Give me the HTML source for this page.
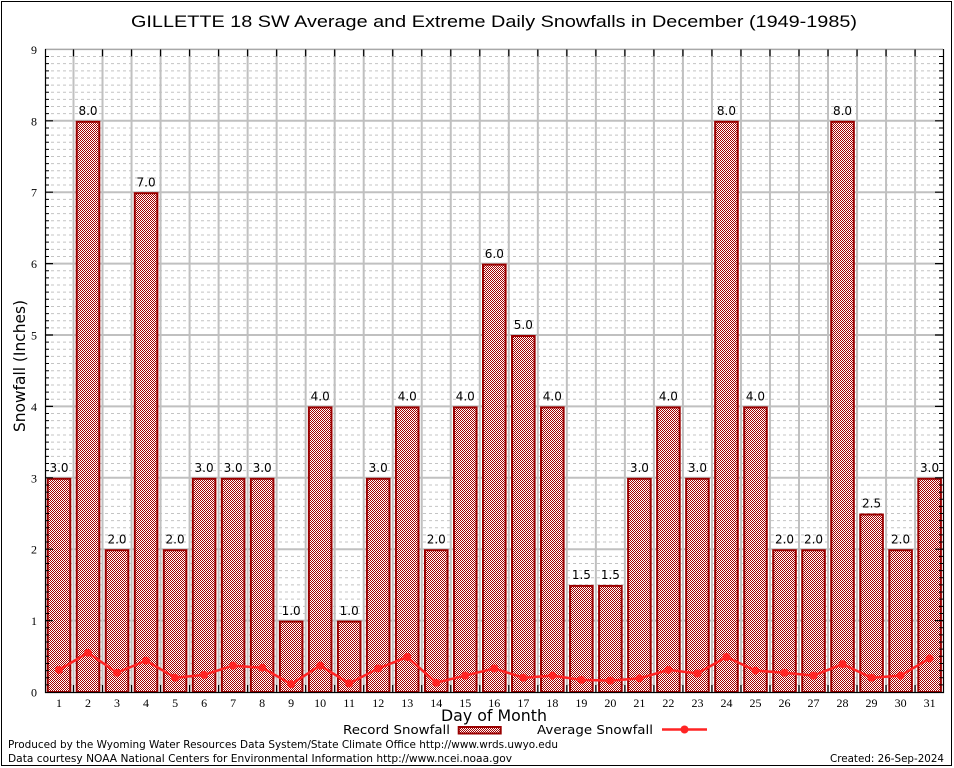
<!DOCTYPE html>
<html><head><meta charset="utf-8"><style>
html,body{margin:0;padding:0;background:#fff;}
svg{display:block;}
</style></head><body>
<svg width="954" height="768" viewBox="0 0 954 768" xmlns="http://www.w3.org/2000/svg">
<defs>
<pattern id="chk" x="0" y="0" width="2" height="2" patternUnits="userSpaceOnUse">
<rect width="2" height="2" fill="#ffffff"/>
<rect x="0" y="0" width="1" height="1" fill="#a40000"/>
<rect x="1" y="1" width="1" height="1" fill="#a40000"/>
</pattern>
<path id="mn" d="M45 684.86H943M45 677.72H943M45 670.58H943M45 663.44H943M45 656.30H943M45 649.16H943M45 642.02H943M45 634.88H943M45 627.74H943" stroke="#c4c4c4" stroke-width="1" stroke-dasharray="3,3" fill="none"/>
<path id="mt" d="M45 684.86h4M45 677.72h4M45 670.58h4M45 663.44h4M45 656.30h4M45 649.16h4M45 642.02h4M45 634.88h4M45 627.74h4M943 684.86h-4M943 677.72h-4M943 670.58h-4M943 663.44h-4M943 656.30h-4M943 649.16h-4M943 642.02h-4M943 634.88h-4M943 627.74h-4" stroke="#000" stroke-width="1" fill="none"/>
</defs>
<rect x="0" y="0" width="954" height="768" fill="#fff"/>
<rect x="1.5" y="1.5" width="950" height="764" fill="none" stroke="#000" stroke-width="1"/>

<use href="#mn"/>
<use href="#mn" transform="translate(0,-71.4)"/>
<use href="#mn" transform="translate(0,-142.8)"/>
<use href="#mn" transform="translate(0,-214.2)"/>
<use href="#mn" transform="translate(0,-285.6)"/>
<use href="#mn" transform="translate(0,-357)"/>
<use href="#mn" transform="translate(0,-428.4)"/>
<use href="#mn" transform="translate(0,-499.8)"/>
<use href="#mn" transform="translate(0,-571.2)"/>

<path d="M45 620.6H943M45 549.2H943M45 477.8H943M45 406.4H943M45 335H943M45 263.6H943M45 192.2H943M45 120.8H943" stroke="#c0c0c0" stroke-width="2" fill="none"/>
<path d="M73.5 49.4V692M102.52 49.4V692M131.54 49.4V692M160.56 49.4V692M189.58 49.4V692M218.6 49.4V692M247.62 49.4V692M276.64 49.4V692M305.66 49.4V692M334.68 49.4V692M363.7 49.4V692M392.72 49.4V692M421.74 49.4V692M450.76 49.4V692M479.78 49.4V692M508.8 49.4V692M537.82 49.4V692M566.84 49.4V692M595.86 49.4V692M624.88 49.4V692M653.9 49.4V692M682.92 49.4V692M711.94 49.4V692M740.96 49.4V692M769.98 49.4V692M799 49.4V692M828.02 49.4V692M857.04 49.4V692M886.06 49.4V692M915.08 49.4V692" stroke="#c0c0c0" stroke-width="2" fill="none"/>

<g fill="url(#chk)" stroke="#9a0000" stroke-width="2">
<rect x="47.7" y="478.8" width="22.6" height="213.2"/>
<rect x="76.72" y="121.8" width="22.6" height="570.2"/>
<rect x="105.74" y="550.2" width="22.6" height="141.8"/>
<rect x="134.76" y="193.2" width="22.6" height="498.8"/>
<rect x="163.78" y="550.2" width="22.6" height="141.8"/>
<rect x="192.8" y="478.8" width="22.6" height="213.2"/>
<rect x="221.82" y="478.8" width="22.6" height="213.2"/>
<rect x="250.84" y="478.8" width="22.6" height="213.2"/>
<rect x="279.86" y="621.6" width="22.6" height="70.4"/>
<rect x="308.88" y="407.4" width="22.6" height="284.6"/>
<rect x="337.9" y="621.6" width="22.6" height="70.4"/>
<rect x="366.92" y="478.8" width="22.6" height="213.2"/>
<rect x="395.94" y="407.4" width="22.6" height="284.6"/>
<rect x="424.96" y="550.2" width="22.6" height="141.8"/>
<rect x="453.98" y="407.4" width="22.6" height="284.6"/>
<rect x="483" y="264.6" width="22.6" height="427.4"/>
<rect x="512.02" y="336" width="22.6" height="356"/>
<rect x="541.04" y="407.4" width="22.6" height="284.6"/>
<rect x="570.06" y="585.9" width="22.6" height="106.1"/>
<rect x="599.08" y="585.9" width="22.6" height="106.1"/>
<rect x="628.1" y="478.8" width="22.6" height="213.2"/>
<rect x="657.12" y="407.4" width="22.6" height="284.6"/>
<rect x="686.14" y="478.8" width="22.6" height="213.2"/>
<rect x="715.16" y="121.8" width="22.6" height="570.2"/>
<rect x="744.18" y="407.4" width="22.6" height="284.6"/>
<rect x="773.2" y="550.2" width="22.6" height="141.8"/>
<rect x="802.22" y="550.2" width="22.6" height="141.8"/>
<rect x="831.24" y="121.8" width="22.6" height="570.2"/>
<rect x="860.26" y="514.5" width="22.6" height="177.5"/>
<rect x="889.28" y="550.2" width="22.6" height="141.8"/>
<rect x="918.3" y="478.8" width="22.6" height="213.2"/>
</g>

<g font-family="'DejaVu Sans','Liberation Sans',sans-serif" font-size="12" fill="#000" text-anchor="middle">
<text x="59" y="472">3.0</text>
<text x="88.02" y="115">8.0</text>
<text x="117.04" y="543.5">2.0</text>
<text x="146.06" y="186.5">7.0</text>
<text x="175.08" y="543.5">2.0</text>
<text x="204.1" y="472">3.0</text>
<text x="233.12" y="472">3.0</text>
<text x="262.14" y="472">3.0</text>
<text x="291.16" y="615">1.0</text>
<text x="320.18" y="400.5">4.0</text>
<text x="349.2" y="615">1.0</text>
<text x="378.22" y="472">3.0</text>
<text x="407.24" y="400.5">4.0</text>
<text x="436.26" y="543.5">2.0</text>
<text x="465.28" y="400.5">4.0</text>
<text x="494.3" y="257.8">6.0</text>
<text x="523.32" y="329">5.0</text>
<text x="552.34" y="400.5">4.0</text>
<text x="581.36" y="579">1.5</text>
<text x="610.38" y="579">1.5</text>
<text x="639.4" y="472">3.0</text>
<text x="668.42" y="400.5">4.0</text>
<text x="697.44" y="472">3.0</text>
<text x="726.46" y="115">8.0</text>
<text x="755.48" y="400.5">4.0</text>
<text x="784.5" y="543.5">2.0</text>
<text x="813.52" y="543.5">2.0</text>
<text x="842.54" y="115">8.0</text>
<text x="871.56" y="507.7">2.5</text>
<text x="900.58" y="543.5">2.0</text>
<text x="929.6" y="472">3.0</text>
</g>

<polyline fill="none" stroke="#ff2424" stroke-width="2.5" stroke-linejoin="round" points="59,669.87 88.02,652.73 117.04,672.72 146.06,660.58 175.08,677.72 204.1,674.86 233.12,665.58 262.14,667.72 291.16,684.15 320.18,665.58 349.2,683.43 378.22,668.44 407.24,657.01 436.26,682.72 465.28,675.58 494.3,668.44 523.32,677.72 552.34,675.58 581.36,679.86 610.38,680.58 639.4,678.43 668.42,669.87 697.44,673.44 726.46,657.01 755.48,670.58 784.5,672.72 813.52,675.58 842.54,664.15 871.56,677.72 900.58,675.58 929.6,658.44"/>
<g fill="#ff2424">
<circle cx="59" cy="669.87" r="4"/><circle cx="88.02" cy="652.73" r="4"/><circle cx="117.04" cy="672.72" r="4"/><circle cx="146.06" cy="660.58" r="4"/><circle cx="175.08" cy="677.72" r="4"/><circle cx="204.1" cy="674.86" r="4"/><circle cx="233.12" cy="665.58" r="4"/><circle cx="262.14" cy="667.72" r="4"/><circle cx="291.16" cy="684.15" r="4"/><circle cx="320.18" cy="665.58" r="4"/><circle cx="349.2" cy="683.43" r="4"/><circle cx="378.22" cy="668.44" r="4"/><circle cx="407.24" cy="657.01" r="4"/><circle cx="436.26" cy="682.72" r="4"/><circle cx="465.28" cy="675.58" r="4"/><circle cx="494.3" cy="668.44" r="4"/><circle cx="523.32" cy="677.72" r="4"/><circle cx="552.34" cy="675.58" r="4"/><circle cx="581.36" cy="679.86" r="4"/><circle cx="610.38" cy="680.58" r="4"/><circle cx="639.4" cy="678.43" r="4"/><circle cx="668.42" cy="669.87" r="4"/><circle cx="697.44" cy="673.44" r="4"/><circle cx="726.46" cy="657.01" r="4"/><circle cx="755.48" cy="670.58" r="4"/><circle cx="784.5" cy="672.72" r="4"/><circle cx="813.52" cy="675.58" r="4"/><circle cx="842.54" cy="664.15" r="4"/><circle cx="871.56" cy="677.72" r="4"/><circle cx="900.58" cy="675.58" r="4"/><circle cx="929.6" cy="658.44" r="4"/>
</g>

<line x1="45" y1="49.4" x2="943" y2="49.4" stroke="#a8a8a8" stroke-width="1.5"/>
<path d="M45.5 49V692.5H943.5V49" fill="none" stroke="#000" stroke-width="1.2"/>
<use href="#mt"/>
<use href="#mt" transform="translate(0,-71.4)"/>
<use href="#mt" transform="translate(0,-142.8)"/>
<use href="#mt" transform="translate(0,-214.2)"/>
<use href="#mt" transform="translate(0,-285.6)"/>
<use href="#mt" transform="translate(0,-357)"/>
<use href="#mt" transform="translate(0,-428.4)"/>
<use href="#mt" transform="translate(0,-499.8)"/>
<use href="#mt" transform="translate(0,-571.2)"/>
<path d="M45 620.6h8M45 549.2h8M45 477.8h8M45 406.4h8M45 335h8M45 263.6h8M45 192.2h8M45 120.8h8M943 620.6h-8M943 549.2h-8M943 477.8h-8M943 406.4h-8M943 335h-8M943 263.6h-8M943 192.2h-8M943 120.8h-8" stroke="#000" stroke-width="1.2" fill="none"/>
<path d="M73.5 49.4v7M102.52 49.4v7M131.54 49.4v7M160.56 49.4v7M189.58 49.4v7M218.6 49.4v7M247.62 49.4v7M276.64 49.4v7M305.66 49.4v7M334.68 49.4v7M363.7 49.4v7M392.72 49.4v7M421.74 49.4v7M450.76 49.4v7M479.78 49.4v7M508.8 49.4v7M537.82 49.4v7M566.84 49.4v7M595.86 49.4v7M624.88 49.4v7M653.9 49.4v7M682.92 49.4v7M711.94 49.4v7M740.96 49.4v7M769.98 49.4v7M799 49.4v7M828.02 49.4v7M857.04 49.4v7M886.06 49.4v7M915.08 49.4v7M73.5 692v-7M102.52 692v-7M131.54 692v-7M160.56 692v-7M189.58 692v-7M218.6 692v-7M247.62 692v-7M276.64 692v-7M305.66 692v-7M334.68 692v-7M363.7 692v-7M392.72 692v-7M421.74 692v-7M450.76 692v-7M479.78 692v-7M508.8 692v-7M537.82 692v-7M566.84 692v-7M595.86 692v-7M624.88 692v-7M653.9 692v-7M682.92 692v-7M711.94 692v-7M740.96 692v-7M769.98 692v-7M799 692v-7M828.02 692v-7M857.04 692v-7M886.06 692v-7M915.08 692v-7" stroke="#000" stroke-width="1.2" fill="none"/>

<g font-family="'Liberation Serif',serif" font-size="12" fill="#000" text-anchor="end">
<text x="37" y="696.5">0</text>
<text x="37" y="625">1</text>
<text x="37" y="553.7">2</text>
<text x="37" y="482.3">3</text>
<text x="37" y="410.9">4</text>
<text x="37" y="339.5">5</text>
<text x="37" y="268.1">6</text>
<text x="37" y="196.7">7</text>
<text x="37" y="125.3">8</text>
<text x="37" y="53.9">9</text>
</g>
<g font-family="'Liberation Serif',serif" font-size="12" fill="#000" text-anchor="middle">
<text x="59" y="707">1</text><text x="88.02" y="707">2</text><text x="117.04" y="707">3</text><text x="146.06" y="707">4</text><text x="175.08" y="707">5</text><text x="204.1" y="707">6</text><text x="233.12" y="707">7</text><text x="262.14" y="707">8</text><text x="291.16" y="707">9</text><text x="320.18" y="707">10</text><text x="349.2" y="707">11</text><text x="378.22" y="707">12</text><text x="407.24" y="707">13</text><text x="436.26" y="707">14</text><text x="465.28" y="707">15</text><text x="494.3" y="707">16</text><text x="523.32" y="707">17</text><text x="552.34" y="707">18</text><text x="581.36" y="707">19</text><text x="610.38" y="707">20</text><text x="639.4" y="707">21</text><text x="668.42" y="707">22</text><text x="697.44" y="707">23</text><text x="726.46" y="707">24</text><text x="755.48" y="707">25</text><text x="784.5" y="707">26</text><text x="813.52" y="707">27</text><text x="842.54" y="707">28</text><text x="871.56" y="707">29</text><text x="900.58" y="707">30</text><text x="929.6" y="707">31</text>
</g>

<text x="131" y="27" font-family="'Liberation Sans',Arial,sans-serif" font-size="17" fill="#000" textLength="726" lengthAdjust="spacingAndGlyphs">GILLETTE 18 SW Average and Extreme Daily Snowfalls in December (1949-1985)</text>

<text transform="translate(25,432) rotate(-90)" font-family="'DejaVu Sans','Liberation Sans',sans-serif" font-size="16" fill="#000" textLength="132" lengthAdjust="spacingAndGlyphs">Snowfall (Inches)</text>
<text x="441" y="721" font-family="'DejaVu Sans','Liberation Sans',sans-serif" font-size="16" fill="#000" textLength="106" lengthAdjust="spacingAndGlyphs">Day of Month</text>

<g font-family="'DejaVu Sans','Liberation Sans',sans-serif" font-size="12.5" fill="#000">
<text x="343" y="734" textLength="107" lengthAdjust="spacingAndGlyphs">Record Snowfall</text>
<text x="537" y="734" textLength="116" lengthAdjust="spacingAndGlyphs">Average Snowfall</text>
</g>
<rect x="458.7" y="727" width="42" height="6.5" fill="url(#chk)" stroke="#9a0000" stroke-width="2"/>
<line x1="662" y1="729.5" x2="707" y2="729.5" stroke="#ff2424" stroke-width="2.5"/>
<circle cx="684.5" cy="729.5" r="4" fill="#ff2424"/>

<g font-family="'DejaVu Sans','Liberation Sans',sans-serif" font-size="11" fill="#000">
<text x="8" y="748" textLength="550" lengthAdjust="spacingAndGlyphs">Produced by the Wyoming Water Resources Data System/State Climate Office http://www.wrds.uwyo.edu</text>
<text x="8" y="762" textLength="504" lengthAdjust="spacingAndGlyphs">Data courtesy NOAA National Centers for Environmental Information http://www.ncei.noaa.gov</text>
<text x="830" y="762" textLength="114" lengthAdjust="spacingAndGlyphs">Created: 26-Sep-2024</text>
</g>
</svg>
</body></html>
